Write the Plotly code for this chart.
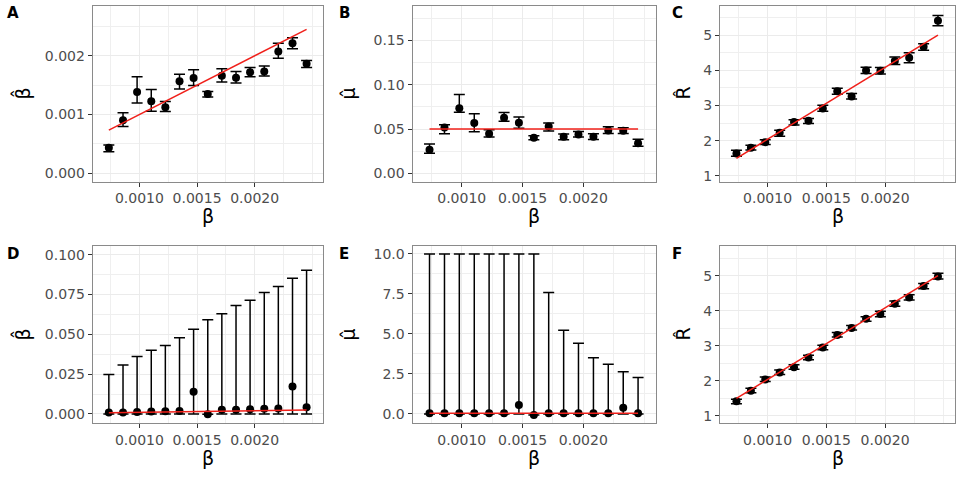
import plotly.graph_objects as go

# ---------------- data ----------------
beta = [0.000735, 0.000858, 0.00098, 0.001103, 0.001225, 0.001348, 0.00147, 0.001593,
        0.001715, 0.001838, 0.00196, 0.002083, 0.002205, 0.002328, 0.00245]
R_true = [1.5, 1.75, 2.0, 2.25, 2.5, 2.75, 3.0, 3.25, 3.5, 3.75, 4.0, 4.25, 4.5, 4.75, 5.0]
mu_true = [0.05] * 15

# Panel A: beta-hat
A_est = [0.000435, 0.000904, 0.001384, 0.001226, 0.001124, 0.001565, 0.001621, 0.00135,
         0.001661, 0.001627, 0.001718, 0.001734, 0.002073, 0.002215, 0.001864]
A_hi = [0.00048, 0.00103, 0.001644, 0.001424, 0.00122, 0.001684, 0.001763, 0.00139,
        0.00178, 0.001734, 0.001802, 0.001825, 0.002215, 0.002305, 0.001921]
A_lo = [0.000367, 0.000797, 0.001198, 0.001056, 0.00105, 0.001435, 0.001492, 0.0013,
        0.001554, 0.001537, 0.001644, 0.001655, 0.00196, 0.002119, 0.001802]

# Panel B: mu-hat
B_est = [0.0265, 0.0519, 0.0735, 0.0568, 0.0447, 0.0629, 0.0572, 0.0402,
         0.053, 0.0413, 0.0439, 0.0413, 0.0485, 0.0481, 0.034]
B_hi = [0.033, 0.0549, 0.089, 0.0674, 0.0492, 0.0686, 0.0636, 0.0424,
        0.0568, 0.0443, 0.0473, 0.0447, 0.0527, 0.0515, 0.0386]
B_lo = [0.0227, 0.0447, 0.0689, 0.047, 0.0409, 0.0587, 0.0508, 0.0379,
        0.0477, 0.0379, 0.0409, 0.0383, 0.0451, 0.0451, 0.0307]

# Panel C: R-hat
C_est = [1.64, 1.80, 1.96, 2.23, 2.53, 2.57, 2.92, 3.41, 3.26, 4.00, 3.99, 4.27, 4.36, 4.67, 5.41]
C_hi = [1.73, 1.87, 2.03, 2.30, 2.60, 2.63, 3.01, 3.49, 3.34, 4.09, 4.08, 4.38, 4.50, 4.76, 5.56]
C_lo = [1.557, 1.74, 1.89, 2.13, 2.45, 2.49, 2.84, 3.32, 3.19, 3.91, 3.90, 4.17, 4.22, 4.57, 5.27]

# Panel D: beta-hat (second model)
D_est = [0.001, 0.001, 0.0012, 0.0015, 0.0017, 0.0019, 0.014, -0.0002,
         0.0027, 0.0027, 0.0029, 0.0033, 0.0035, 0.0173, 0.0042]
D_hi = [0.0248, 0.0308, 0.036, 0.040, 0.0429, 0.0479, 0.0531, 0.0592,
        0.0629, 0.0681, 0.0713, 0.0763, 0.080, 0.0852, 0.0902]
D_lo = [0.0, 0.0, 0.0, 0.0, 0.0, 0.0, 0.0, -0.0002, 0.0, 0.0, 0.0, 0.0, 0.0, 0.0, 0.0]

# Panel E: mu-hat (second model)
E_est = [0.05, 0.05, 0.05, 0.05, 0.05, 0.05, 0.56, -0.06,
         0.05, 0.05, 0.05, 0.05, 0.05, 0.39, 0.05]
E_hi = [10.0, 10.0, 10.0, 10.0, 10.0, 10.0, 10.0, 10.0,
        7.59, 5.23, 4.42, 3.51, 3.11, 2.63, 2.28]
E_lo = [0.0, 0.0, 0.0, 0.0, 0.0, 0.0, 0.0, -0.06, 0.0, 0.0, 0.0, 0.0, 0.0, 0.0, 0.0]

# Panel F: R-hat (second model)
F_est = [1.42, 1.72, 2.04, 2.24, 2.39, 2.67, 2.95, 3.31, 3.51, 3.77, 3.91, 4.20, 4.38, 4.71, 4.98]
F_hi = [1.48, 1.79, 2.11, 2.31, 2.46, 2.73, 3.02, 3.38, 3.58, 3.83, 3.99, 4.28, 4.46, 4.78, 5.07]
F_lo = [1.35, 1.66, 1.98, 2.18, 2.33, 2.60, 2.89, 3.25, 3.45, 3.70, 3.83, 4.13, 4.31, 4.63, 4.91]

x_ticks = [0.0010, 0.0015, 0.0020]
x_ticklabels = ["0.0010", "0.0015", "0.0020"]
x_minor = [0.00075, 0.00125, 0.00175, 0.00225, 0.0025]

# ---------------- layout geometry ----------------
W, H = 959, 481
col_px = [(92.7, 323.3), (412.5, 655.7), (720.0, 955.0)]
row_px = [(5.7, 182.3), (247.3, 424.5)]

panels = [
    # label, est, hi, lo, truth, yrange, ydtick, yfmt, ytitle
    ("A", A_est, A_hi, A_lo, beta, [-0.000141, 0.002853], 0.001, ".3f", "β\u0302"),
    ("B", B_est, B_hi, B_lo, mu_true, [-0.0093, 0.1894], 0.05, ".2f", "μ\u0302"),
    ("C", C_est, C_hi, C_lo, R_true, [0.84, 5.84], 1, "d", "R\u0302"),
    ("D", D_est, D_hi, D_lo, beta, [-0.0055, 0.10525], 0.025, ".3f", "β\u0302"),
    ("E", E_est, E_hi, E_lo, mu_true, [-0.55, 10.48], 2.5, ".1f", "μ\u0302"),
    ("F", F_est, F_hi, F_lo, R_true, [0.807, 5.84], 1, "d", "R\u0302"),
]

FONT = "DejaVu Sans"
fig = go.Figure()
annotations = []
layout_axes = {}

for i, (lab, est, hi, lo, truth, yr, ydt, yfmt, ytitle) in enumerate(panels):
    r, c = divmod(i, 3)
    x0, x1 = col_px[c]
    yt, yb = row_px[r]
    n = i + 1
    xa = "x" if n == 1 else f"x{n}"
    ya = "y" if n == 1 else f"y{n}"
    xkey = "xaxis" if n == 1 else f"xaxis{n}"
    ykey = "yaxis" if n == 1 else f"yaxis{n}"

    err_plus = [h - e for h, e in zip(hi, est)]
    err_minus = [e - l for e, l in zip(est, lo)]
    fig.add_trace(go.Scatter(
        x=beta, y=est, mode="markers", xaxis=xa, yaxis=ya,
        marker=dict(color="black", size=8),
        error_y=dict(type="data", symmetric=False, array=err_plus, arrayminus=err_minus,
                     color="black", thickness=1.5, width=5.5),
        showlegend=False, hoverinfo="skip"))
    fig.add_trace(go.Scatter(
        x=[beta[0], beta[-1]], y=[truth[0], truth[-1]], mode="lines", xaxis=xa, yaxis=ya,
        line=dict(color="#F0201A", width=1.5), showlegend=False, hoverinfo="skip"))

    common = dict(showline=True, mirror=True, linecolor="#8a8a8a", linewidth=1,
                  ticks="outside", ticklen=4, tickcolor="#333333", tickwidth=1,
                  showgrid=True, gridcolor="#EBEBEB", gridwidth=1, zeroline=False,
                  tickfont=dict(family=FONT, size=14, color="#4D4D4D"))
    layout_axes[xkey] = dict(
        common, domain=[x0 / W, x1 / W], anchor=ya, range=[0.000595, 0.002595],
        tickmode="array", tickvals=x_ticks, ticktext=x_ticklabels,
        minor=dict(tickmode="array", tickvals=x_minor,
                   showgrid=True, gridcolor="#EFEFEF", gridwidth=0.7, ticks=""))
    layout_axes[ykey] = dict(
        common, domain=[1 - yb / H, 1 - yt / H], anchor=xa, range=yr,
        tick0=0, dtick=ydt, tickformat=yfmt,
        minor=dict(tick0=0, dtick=ydt / 2, showgrid=True, gridcolor="#EFEFEF",
                   gridwidth=0.7, ticks=""))

    # panel label
    lab_x = [5, 337, 670][c]
    lab_y = [13, 255][r]
    annotations.append(dict(text=f"<b>{lab}</b>", x=lab_x / W, y=1 - lab_y / H,
                            xref="paper", yref="paper", xanchor="left", yanchor="middle",
                            showarrow=False, font=dict(family=FONT, size=15, color="black")))
    # x title
    annotations.append(dict(text="β", x=((x0 + x1) / 2) / W, y=1 - (yb + 35) / H,
                            xref="paper", yref="paper", xanchor="center", yanchor="middle",
                            showarrow=False, font=dict(family=FONT, size=19, color="black")))
    # y title
    ytx = [22, 348, 683][c]
    annotations.append(dict(text=ytitle, x=ytx / W, y=1 - ((yt + yb) / 2) / H,
                            xref="paper", yref="paper", xanchor="center", yanchor="middle",
                            textangle=-90, showarrow=False,
                            font=dict(family=FONT, size=19, color="black")))

fig.update_layout(
    width=W, height=H, margin=dict(l=0, r=0, t=0, b=0),
    paper_bgcolor="white", plot_bgcolor="white",
    annotations=annotations, **layout_axes)

fig.write_html("out.html")
